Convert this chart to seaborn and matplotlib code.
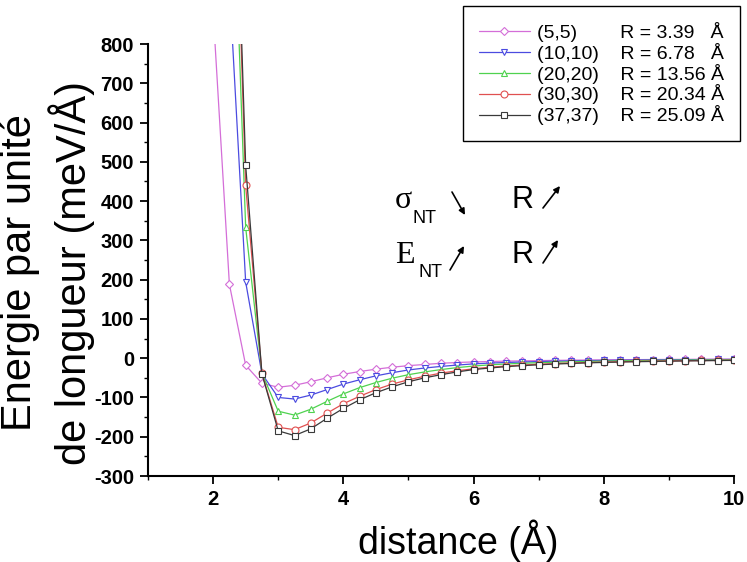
import numpy as np
import matplotlib
matplotlib.use("Agg")
import matplotlib.pyplot as plt
import seaborn as sns
from matplotlib.ticker import MultipleLocator

# distance (A) of the computed points, one every 0.25 A
distance = [2.0, 2.25, 2.5, 2.75, 3.0, 3.25, 3.5, 3.75, 4.0, 4.25, 4.5,
            4.75, 5.0, 5.25, 5.5, 5.75, 6.0, 6.25, 6.5, 6.75, 7.0, 7.25,
            7.5, 7.75, 8.0, 8.25, 8.5, 8.75, 9.0, 9.25, 9.5, 9.75, 10.0]

# energy per unit length (meV/A)
e_5_5 = [883, 188, -18, -64, -74, -69, -60, -50, -41, -34, -28, -23, -19,
         -16, -13, -11, -9.5, -8.5, -7.5, -6.8, -6.2, -5.6, -5.1, -4.7,
         -4.3, -4.0, -3.7, -3.4, -3.2, -3.0, -2.8, -2.6, -2.5]
e_10_10 = [np.nan, 951, 194, -40, -100, -104, -94, -80, -66, -55, -45, -37,
           -30, -25, -21, -17.5, -14.5, -12.5, -11, -9.7, -8.6, -7.7, -6.9,
           -6.2, -5.7, -5.2, -4.8, -4.4, -4.1, -3.8, -3.5, -3.3, -3.1]
e_20_20 = [np.nan, 1500, 333, -38, -135, -145, -130, -110, -91, -75, -62,
           -51, -42, -35, -29, -24, -20, -17, -14.8, -13, -11.5, -10.2,
           -9.1, -8.2, -7.4, -6.7, -6.1, -5.6, -5.2, -4.8, -4.5, -4.2, -3.9]
e_30_30 = [np.nan, 1726, 440, -39, -176, -182, -165, -140, -116, -97, -80,
           -66, -55, -46, -38, -32, -27, -23, -20, -17.5, -15.4, -13.7,
           -12.2, -11, -9.9, -9, -8.2, -7.5, -6.9, -6.4, -5.9, -5.5, -5.1]
e_37_37 = [np.nan, 1778, 491, -40, -185, -197, -180, -153, -128, -106, -88,
           -73, -60, -50, -42, -35, -29, -25, -21.5, -19, -16.8, -15, -13.4,
           -12, -10.8, -9.8, -9, -8.3, -7.6, -7, -6.5, -6, -5.6]

tube_labels = ["(5,5)        R = 3.39   Å",
               "(10,10)    R = 6.78   Å",
               "(20,20)    R = 13.56 Å",
               "(30,30)    R = 20.34 Å",
               "(37,37)    R = 25.09 Å"]
colors = ["#d46ed8", "#4b4be0", "#4fd24f", "#e05050", "#3a3a3a"]
markers = ["D", "v", "^", "o", "s"]

sns.set_style("ticks")
plt.rcParams["font.family"] = ["Liberation Sans", "DejaVu Sans"]
plt.rcParams["axes.unicode_minus"] = False
plt.rcParams["text.color"] = "black"

W, H = 747, 562


def px(x, y):
    return x / W, 1 - y / H


fig = plt.figure(figsize=(7.47, 5.62), dpi=100)
ax = fig.add_axes([148 / W, 1 - 476 / H, (734 - 148) / W, (476 - 44) / H])

series = [e_5_5, e_10_10, e_20_20, e_30_30, e_37_37]
for vals, lab, c, m in zip(series, tube_labels, colors, markers):
    sns.lineplot(x=distance, y=vals, ax=ax, color=c, marker=m,
                 markersize=5 if m != "D" else 4.2,
                 markerfacecolor="white", markeredgecolor=c,
                 markeredgewidth=0.8, linewidth=0.9, label=lab,
                 estimator=None, legend=False)

ax.set_xlim(1, 10)
ax.set_ylim(-300, 800)
ax.xaxis.set_major_locator(MultipleLocator(2))
ax.xaxis.set_minor_locator(MultipleLocator(1))
ax.yaxis.set_major_locator(MultipleLocator(100))
ax.yaxis.set_minor_locator(MultipleLocator(50))
ax.tick_params(which="major", direction="out", length=6, width=1.3,
               labelsize=14.5, colors="black", pad=4)
ax.tick_params(which="minor", direction="out", length=3, width=1.0,
               colors="black")
for t in ax.get_xticklabels() + ax.get_yticklabels():
    t.set_fontweight("bold")

sns.despine(ax=ax)
for s in ["left", "bottom"]:
    ax.spines[s].set_color("black")
    ax.spines[s].set_linewidth(1.5)

ax.set_xlabel("distance (Å)", fontsize=27, color="black")
ax.xaxis.set_label_coords(0.53, -0.1)
ax.set_ylabel("Energie par unité\nde longueur (meV/Å)", fontsize=30,
              color="black", linespacing=1.22)
ax.yaxis.set_label_coords(-0.09, 0.47)

if ax.get_legend() is not None:
    ax.get_legend().remove()
handles, labels = ax.get_legend_handles_labels()
leg = fig.legend(handles, labels, loc="upper right",
                 bbox_to_anchor=px(740, 6), borderaxespad=0, fontsize=14,
                 frameon=True, fancybox=False, framealpha=1,
                 edgecolor="black", handlelength=2.6, labelspacing=0.05,
                 borderpad=0.8, handletextpad=0.4)
leg.get_frame().set_linewidth(1.0)

# sigma / E vs R annotations
serif = ["Liberation Serif", "DejaVu Serif"]
fig.text(*px(395, 208), "σ", fontsize=23, family=serif, ha="left", va="baseline")
fig.text(*px(412, 223), "NT", fontsize=13, ha="left", va="baseline")
fig.text(*px(395, 263), "E", fontsize=23, family=serif, ha="left", va="baseline")
fig.text(*px(419, 277), "NT", fontsize=13, ha="left", va="baseline")
fig.text(*px(512, 208), "R", fontsize=22, ha="left", va="baseline")
fig.text(*px(512, 263), "R", fontsize=22, ha="left", va="baseline")

arrow_kw = dict(arrowstyle="-|>", color="black", lw=1.2, mutation_scale=9,
                shrinkA=0, shrinkB=0)
for start, end in [((452, 192), (465, 215)), ((543, 208), (560, 186)),
                   ((450, 270), (464, 246)), ((543, 263), (558, 240))]:
    ax.annotate("", xy=px(*end), xytext=px(*start),
                xycoords="figure fraction", textcoords="figure fraction",
                arrowprops=arrow_kw)

fig.savefig("out.png", dpi=100)
